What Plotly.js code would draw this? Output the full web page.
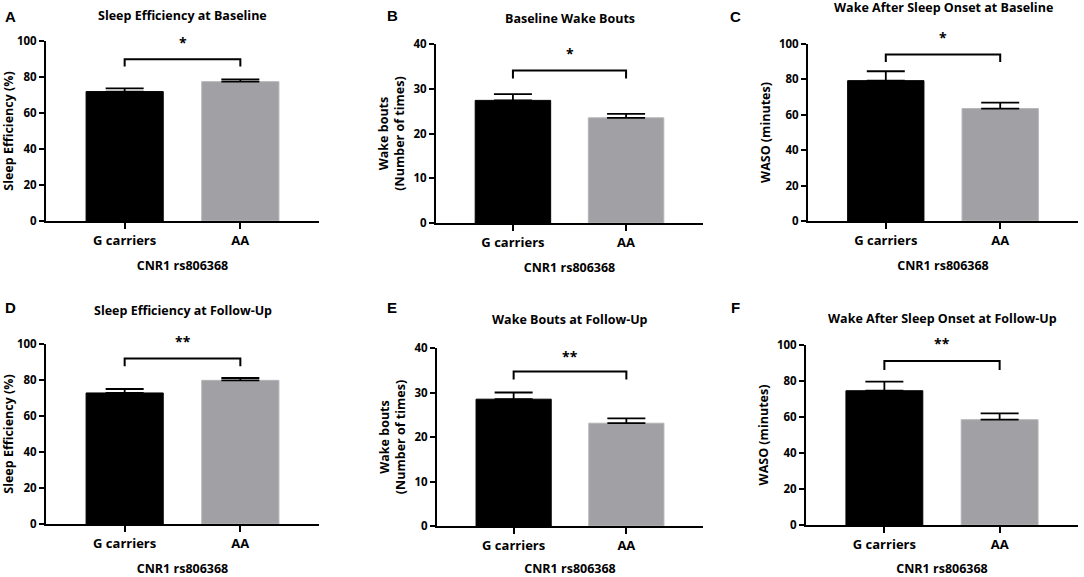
<!DOCTYPE html>
<html>
<head>
<meta charset="utf-8">
<script src="https://cdn.plot.ly/plotly-3.0.1.min.js"></script>
<style>
  html, body { margin: 0; padding: 0; background: #fff; }
  #chart { width: 1084px; height: 577px; }
</style>
</head>
<body>
<div id="chart"></div>
<script>
/* ===== data ===== */
const groups = ["G carriers", "AA"];
const xAxisTitle = "CNR1 rs806368";

const panelLetters = ["A", "B", "C", "D", "E", "F"];
const panelTitles = [
  "Sleep Efficiency at Baseline",
  "Baseline Wake Bouts",
  "Wake After Sleep Onset at Baseline",
  "Sleep Efficiency at Follow-Up",
  "Wake Bouts at Follow-Up",
  "Wake After Sleep Onset at Follow-Up"
];
const yTitles = [
  "Sleep Efficiency (%)",
  "Wake bouts<br>(Number of times)",
  "WASO (minutes)",
  "Sleep Efficiency (%)",
  "Wake bouts<br>(Number of times)",
  "WASO (minutes)"
];

const sleepEffBase = [71.9, 77.4];
const sleepEffBaseSE = [1.8, 1.3];
const wakeBoutsBase = [27.4, 23.5];
const wakeBoutsBaseSE = [1.4, 0.9];
const wasoBase = [79.3, 63.5];
const wasoBaseSE = [5.3, 3.4];
const sleepEffFU = [72.8, 79.8];
const sleepEffFUSE = [2.2, 1.3];
const wakeBoutsFU = [28.5, 23.1];
const wakeBoutsFUSE = [1.5, 1.1];
const wasoFU = [74.6, 58.5];
const wasoFUSE = [5.0, 3.5];

const yMax = [100, 40, 100, 100, 40, 100];
const yStep = [20, 10, 20, 20, 10, 20];

// significance brackets
const bracketTop = [89.8, 34.1, 94.0, 91.9, 34.7, 91.1];
const bracketFoot = [85.9, 32.3, 89.8, 87.6, 32.9, 86.1];
const starLevel = [100.5, 38.4, 104.9, 102.4, 38.5, 101.9];
const starText = ["*", "*", "*", "**", "**", "**"];

/* ===== layout helpers ===== */
const W = 1084, H = 577;
const fx = p => p / W;
const fy = p => 1 - p / H;

// plot boxes in pixels: [left, right, top, bottom]
const boxes = [
  [46, 319, 41, 221],
  [436, 703, 44, 223],
  [808, 1078, 44, 221],
  [46, 319, 344, 524],
  [437, 703, 348, 526],
  [806, 1078, 345, 525]
];
const letterPos = [[10, 17], [392, 15], [735, 17], [10, 307], [392, 307], [735, 307]];
const titleY = [15, 19, 8, 310, 319, 318];

const means = [sleepEffBase, wakeBoutsBase, wasoBase, sleepEffFU, wakeBoutsFU, wasoFU];
const errs = [sleepEffBaseSE, wakeBoutsBaseSE, wasoBaseSE, sleepEffFUSE, wakeBoutsFUSE, wasoFUSE];

const FONT = "Open Sans, Liberation Sans, sans-serif";
const barColors = ["#000000", "#a1a1a5"];
const barLines = ["#000000", "#b4b4b7"];

const traces = [];
const layout = {
  width: W, height: H,
  margin: {l: 0, r: 0, t: 0, b: 0},
  paper_bgcolor: "#fff",
  plot_bgcolor: "rgba(0,0,0,0)",
  showlegend: false,
  font: {family: FONT, color: "#000"},
  annotations: []
};

means.forEach((vals, i) => {
  const n = i + 1;
  const xa = n === 1 ? "x" : "x" + n;
  const ya = n === 1 ? "y" : "y" + n;
  const b = boxes[i];
  const yDom = [fy(b[3]), fy(b[2])];

  traces.push({
    type: "bar",
    x: groups,
    y: vals,
    width: 0.667,
    xaxis: xa, yaxis: ya,
    marker: {color: barColors, line: {color: barLines, width: 1}},
    error_y: {
      type: "data", symmetric: false,
      array: errs[i], arrayminus: [0, 0],
      color: "#000", thickness: 1.8, width: 19
    },
    hoverinfo: "skip"
  });

  // bracket
  traces.push({
    type: "scatter", mode: "lines",
    x: [groups[0], groups[0], groups[1], groups[1]],
    y: [bracketFoot[i], bracketTop[i], bracketTop[i], bracketFoot[i]],
    xaxis: xa, yaxis: ya,
    line: {color: "#000", width: 2},
    cliponaxis: false,
    hoverinfo: "skip"
  });

  const axX = {
    domain: [fx(b[0]), fx(b[1])],
    anchor: ya,
    type: "category",
    range: [-0.68, 1.68],
    showline: true, linecolor: "#000", linewidth: 2,
    ticks: "outside", ticklen: 6, tickwidth: 2, tickcolor: "#000",
    showgrid: false, zeroline: false,
    tickfont: {size: 13, family: FONT, weight: "bold"},
    title: {text: xAxisTitle, font: {size: 12.5, family: FONT, weight: "bold"}, standoff: 14},
    fixedrange: true
  };
  const axY = {
    domain: yDom,
    anchor: xa,
    range: [0, yMax[i]],
    dtick: yStep[i], tick0: 0,
    showline: true, linecolor: "#000", linewidth: 2,
    ticks: "outside", ticklen: 5, tickwidth: 2, tickcolor: "#000",
    showgrid: false, zeroline: false,
    tickfont: {size: 11.5, family: FONT, weight: "bold"},
    title: {text: yTitles[i], font: {size: 12.5, family: FONT, weight: "bold"}, standoff: 6},
    fixedrange: true
  };
  layout["xaxis" + (n === 1 ? "" : n)] = axX;
  layout["yaxis" + (n === 1 ? "" : n)] = axY;

  // stars: placed in paper units from the axis scale (value above the axis range)
  layout.annotations.push({
    xref: xa + " domain", yref: "paper",
    x: (0.5 + 0.68) / 2.36,
    y: yDom[0] + starLevel[i] / yMax[i] * (yDom[1] - yDom[0]),
    text: "<b>" + starText[i] + "</b>",
    showarrow: false,
    font: {size: 14, family: FONT},
    xanchor: "center", yanchor: "middle", yshift: -2
  });
  // panel title
  layout.annotations.push({
    xref: "paper", yref: "paper",
    x: fx((b[0] + b[1]) / 2), y: fy(titleY[i]),
    text: "<b>" + panelTitles[i] + "</b>",
    showarrow: false, xanchor: "center", yanchor: "middle",
    font: {size: 12.5, family: FONT}
  });
  // panel letter
  layout.annotations.push({
    xref: "paper", yref: "paper",
    x: fx(letterPos[i][0]), y: fy(letterPos[i][1]),
    text: "<b>" + panelLetters[i] + "</b>",
    showarrow: false, xanchor: "center", yanchor: "middle",
    font: {size: 15, family: "Liberation Sans, Arial, sans-serif"}
  });
});

Plotly.newPlot("chart", traces, layout, {displayModeBar: false, staticPlot: true});
</script>
</body>
</html>
